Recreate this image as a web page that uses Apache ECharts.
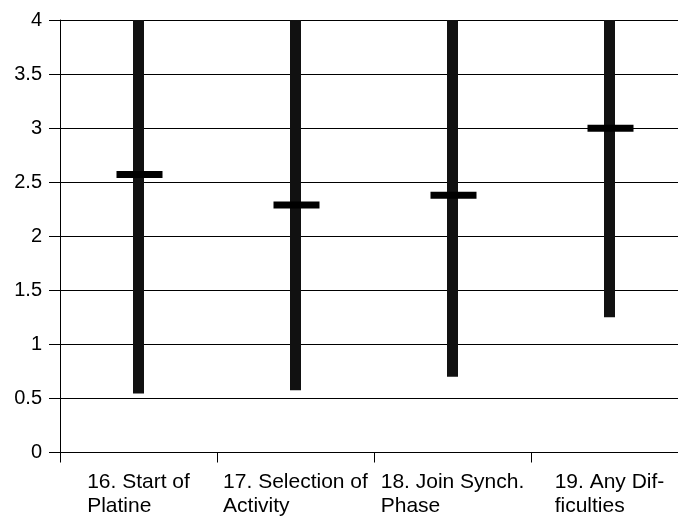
<!DOCTYPE html>
<html>
<head>
<meta charset="utf-8">
<script src="https://cdn.jsdelivr.net/npm/echarts@6/dist/echarts.min.js"></script>
<style>
html,body{margin:0;padding:0;background:#fff;overflow:hidden;width:678px;height:517px;}
#chart{width:688px;height:517px;}
</style>
</head>
<body>
<div id="chart"></div>
<script>
var categories = ['16. Start of\nPlatine', '17. Selection of\nActivity', '18. Join Synch.\nPhase', '19. Any Dif-\nficulties'];
var lows = [0.545, 0.575, 0.70, 1.25];
var highs = [4, 4, 4, 4];
var means = [2.57, 2.29, 2.38, 3.0];
var yTicks = [0, 0.5, 1, 1.5, 2, 2.5, 3, 3.5, 4];

var data = categories.map(function (c, i) { return [i, lows[i], highs[i], means[i]]; });

var chart = echarts.init(document.getElementById('chart'), null, {renderer: 'canvas'});
chart.setOption({
  animation: false,
  backgroundColor: '#fff',
  grid: {left: 60, right: 0, top: 20, bottom: 64, containLabel: false},
  xAxis: {
    type: 'category',
    data: categories,
    boundaryGap: true,
    axisLine: {show: true, lineStyle: {color: '#000', width: 1}},
    axisTick: {show: true, length: 10, inside: false, alignWithLabel: false, lineStyle: {color: '#000', width: 1}},
    axisLabel: {
      margin: 18,
      interval: 0,
      formatter: function (v) {
        return v.split('\n').map(function (s) { return '{a|' + s + '}'; }).join('\n');
      },
      rich: {a: {fontFamily: 'Liberation Sans, Arial, sans-serif', fontSize: 21, color: '#000', align: 'left', lineHeight: 24}}
    },
    splitLine: {show: false}
  },
  yAxis: {
    type: 'value',
    min: 0,
    max: 4,
    interval: 0.5,
    axisLine: {show: true, lineStyle: {color: '#000', width: 1}},
    axisTick: {show: true, length: 11, inside: false, lineStyle: {color: '#000', width: 1}},
    axisLabel: {
      margin: 18,
      fontFamily: 'Liberation Sans, Arial, sans-serif',
      fontSize: 20,
      color: '#000',
      formatter: function (v) { return String(v); }
    },
    splitLine: {show: true, lineStyle: {color: '#000', width: 1}}
  },
  series: [{
    type: 'custom',
    data: data,
    encode: {x: 0, y: [1, 2, 3]},
    clip: true,
    renderItem: function (params, api) {
      var x = api.value(0);
      var lowPt = api.coord([x, api.value(1)]);
      var highPt = api.coord([x, api.value(2)]);
      var meanPt = api.coord([x, api.value(3)]);
      var barW = 11, tickW = 46, tickH = 7;
      return {
        type: 'group',
        children: [
          {type: 'rect', shape: {x: lowPt[0] - barW / 2, y: highPt[1], width: barW, height: lowPt[1] - highPt[1]}, style: {fill: '#111'}},
          {type: 'rect', shape: {x: meanPt[0] - tickW / 2 + 1, y: meanPt[1] - tickH / 2, width: tickW, height: tickH}, style: {fill: '#000'}}
        ]
      };
    }
  }]
});
</script>
</body>
</html>
